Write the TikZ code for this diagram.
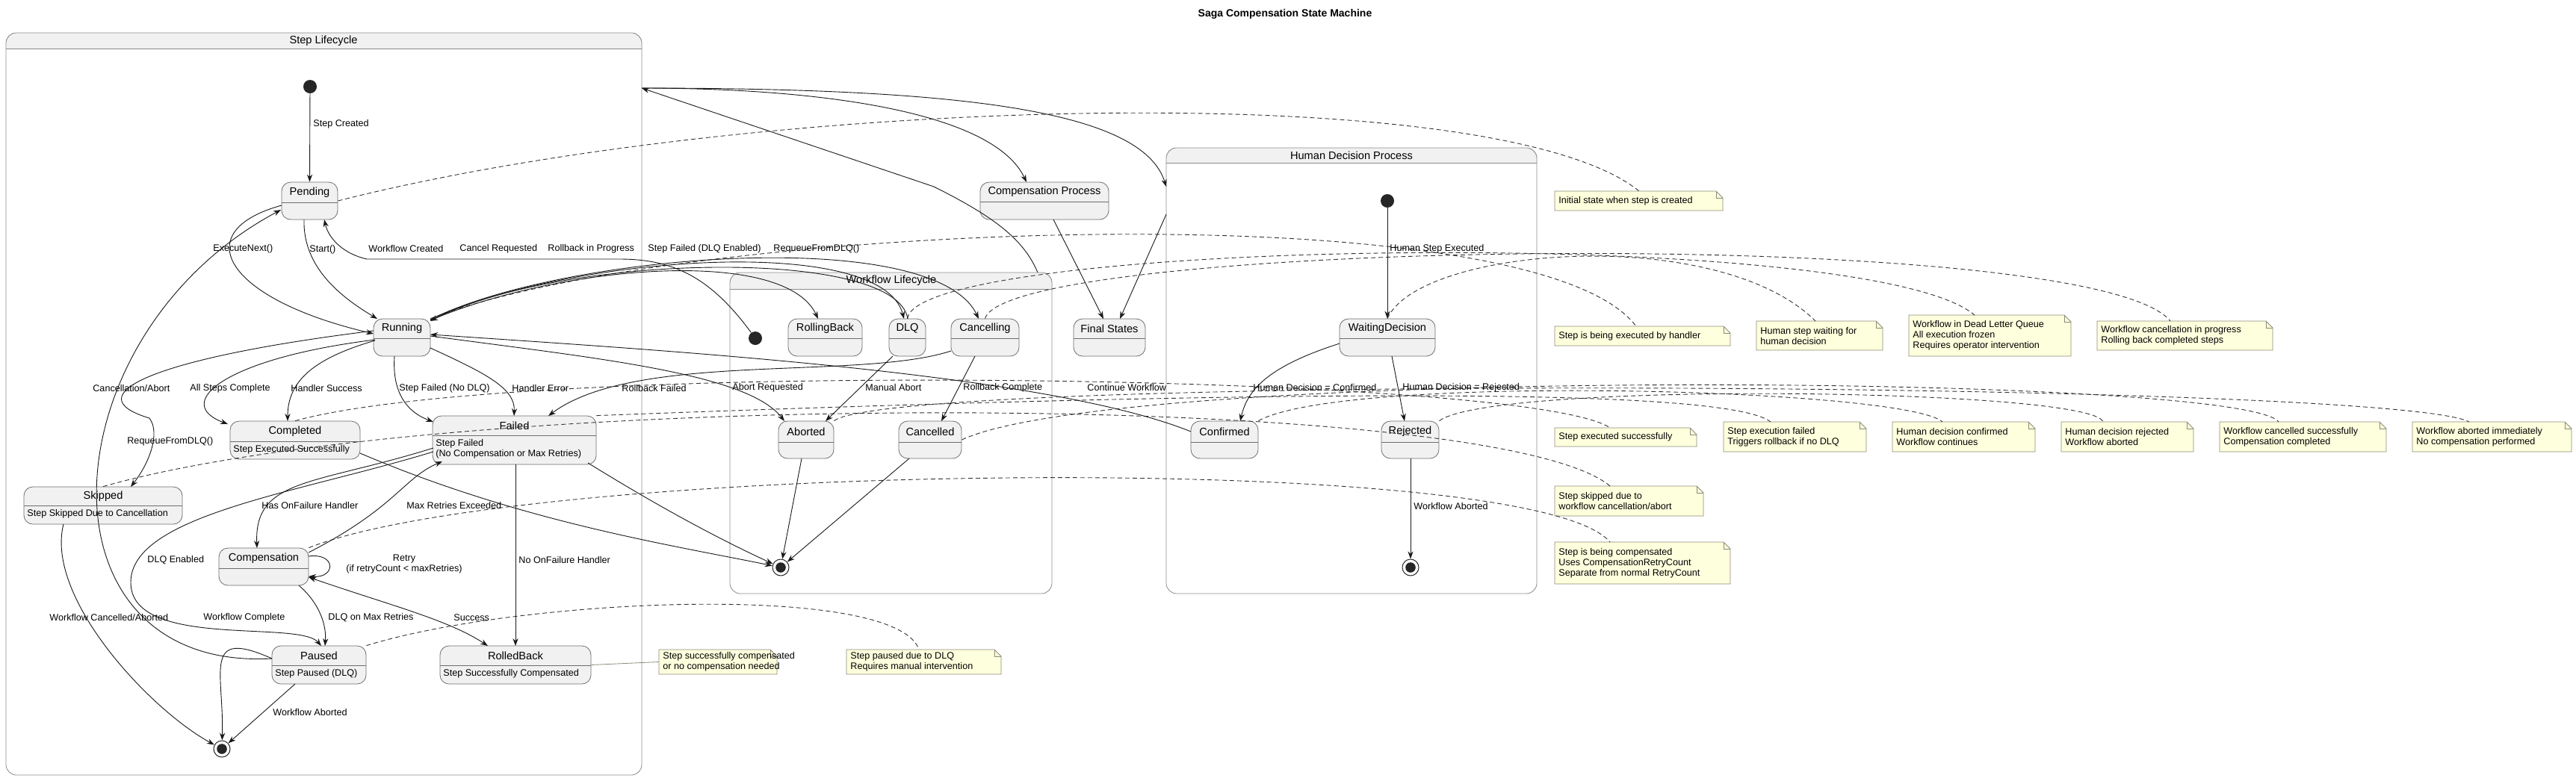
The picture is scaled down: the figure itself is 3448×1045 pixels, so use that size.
\documentclass[tikz,border=0pt]{standalone}
\usepackage{fontspec}
\setmainfont{Liberation Sans}
\usetikzlibrary{fit,arrows.meta}
\definecolor{stfill}{HTML}{F1F1F1}
\definecolor{stdraw}{HTML}{6E6E6E}
\definecolor{notefill}{HTML}{FEFFDD}
\definecolor{notedraw}{HTML}{8A8A7A}
\tikzset{
 lbl/.style={font=\fontsize{6.3}{7}\selectfont,inner sep=1pt},
 stname/.style={font=\fontsize{7.3}{8.5}\selectfont,inner sep=0pt},
 stline/.style={draw=stdraw,line width=0.4pt},
 frameline/.style={draw=stdraw!80,line width=0.4pt},
 notest/.style={draw=notedraw,fill=notefill,line width=0.4pt},
 tr/.style={draw=black!90,line width=0.45pt,-{Stealth[length=5pt,width=3.6pt]}},
 trb/.style={draw=black!90,line width=0.45pt,{Stealth[length=5pt,width=3.6pt]}-{Stealth[length=5pt,width=3.6pt]}},
 nl/.style={draw=black!80,line width=0.45pt,dash pattern=on 3pt off 2pt},
 startst/.style={circle,fill=black!85,minimum size=9pt,inner sep=0pt},
 endst/.style={circle,draw=black!85,fill=white,minimum size=11pt,inner sep=0pt,line width=0.5pt},
}
\newcommand\stbox[8]{%
 \filldraw[stline,fill=stfill,rounded corners=6pt] (#2,#3) rectangle (#4,#5);
 \draw[stline] (#2,#6) -- (#4,#6);
 \node[stname] (#1t) at ({(#2+#4)/2},{(#3+#6)/2}) {#7};
 \node[lbl,anchor=north west,align=left] (#1b) at (#2+2,#6+3) {#8};
 \path (#2,#3) coordinate (#1nw) (#4,#5) coordinate (#1se);
 \node[fit=(#1nw)(#1se),inner sep=0pt] (#1) {};
}
\newcommand\frbox[6]{%
 \filldraw[frameline,fill=white,rounded corners=7pt] (#2,#3) rectangle (#4,#5);
 \scope\clip (#2,#3) rectangle (#4,#6);
 \filldraw[frameline,fill=stfill,rounded corners=7pt] (#2,#3) rectangle (#4,#5);\endscope
 \draw[frameline] (#2,#6) -- (#4,#6);
 \path (#2,#3) coordinate (#1nw) (#4,#5) coordinate (#1se);
 \node[fit=(#1nw)(#1se),inner sep=0pt] (#1) {};
}
\newcommand\notebox[6]{%
 \filldraw[notest] (#2,#3) -- (#4-9,#3) -- (#4,#3+9) -- (#4,#5) -- (#2,#5) -- cycle;
 \draw[notest,fill=none] (#4-9,#3) |- (#4,#3+9);
 \node[lbl,anchor=west,align=left] (#1t) at (#2+3,{(#3+#5)/2}) {#6};
 \path (#2,#3) coordinate (#1nw) (#4,#5) coordinate (#1se);
 \node[fit=(#1nw)(#1se),inner sep=0pt] (#1) {};
}
\begin{document}
\begin{tikzpicture}[x=0.5pt,y=-0.5pt]
\fill[white] (0,0) rectangle (3448,1045);
\useasboundingbox (0,0) rectangle (3448,1045);
\node[font=\bfseries\fontsize{7}{8}\selectfont] (title) at (1720,19) {Saga Compensation State Machine};
% frames
\frbox{stepfr}{8}{44}{859}{1038}{65}
\node[stname] (stepfrt) at (433,55) {Step Lifecycle};
\frbox{wffr}{977}{365}{1408}{795}{387}
\node[stname] (wffrt) at (1193,376) {Workflow Lifecycle};
\frbox{humfr}{1561}{198}{2057}{795}{218}
\node[stname] (humfrt) at (1809,208) {Human Decision Process};
% states step
\node[startst] (sstart) at (415,116) {};
\stbox{Pending}{377}{244}{452}{294}{271}{Pending}{}
\stbox{Running}{500}{427}{576}{477}{453}{Running}{}
\stbox{Completed}{308}{564}{482}{615}{591}{Completed}{Step Executed Successfully}
\stbox{Failed}{579}{557}{798}{622}{583}{Failed}{Step Failed\\(No Compensation or Max Retries)}
\stbox{Skipped}{32}{652}{244}{702}{677}{Skipped}{Step Skipped Due to Cancellation}
\stbox{Compensation}{293}{734}{413}{784}{761}{Compensation}{}
\stbox{Paused}{364}{865}{490}{916}{891}{Paused}{Step Paused (DLQ)}
\stbox{RolledBack}{589}{865}{791}{916}{891}{RolledBack}{Step Successfully Compensated}
\node[endst] (send) at (297,1003) {};
\fill[black!85] (send) circle (3.4pt);
% workflow
\node[startst] (wstart) at (1011,453) {};
\stbox{RollingBack}{1055}{427}{1154}{477}{453}{RollingBack}{}
\stbox{DLQ}{1190}{427}{1239}{477}{453}{DLQ}{}
\stbox{Cancelling}{1273}{427}{1364}{477}{453}{Cancelling}{}
\stbox{Aborted}{1042}{564}{1116}{614}{592}{Aborted}{}
\stbox{Cancelled}{1203}{564}{1287}{614}{592}{Cancelled}{}
\node[endst] (wend) at (1045,760) {};
\fill[black!85] (wend) circle (3.4pt);
\stbox{CompProc}{1312}{244}{1484}{294}{270}{Compensation Process}{}
\stbox{Final}{1437}{427}{1533}{477}{453}{Final States}{}
% human
\node[startst] (hstart) at (1857,269) {};
\stbox{Waiting}{1793}{427}{1921}{477}{453}{WaitingDecision}{}
\stbox{Confirmed}{1594}{564}{1684}{614}{592}{Confirmed}{}
\stbox{Rejected}{1849}{564}{1926}{614}{592}{Rejected}{}
\node[endst] (hend) at (1888,760) {};
\fill[black!85] (hend) circle (3.4pt);
% notes
\notebox{n1}{2081}{256}{2306}{282}{Initial state when step is created}
\notebox{n2}{2081}{437}{2316}{463}{Step is being executed by handler}
\notebox{n3}{2351}{430}{2520}{469}{Human step waiting for\\human decision}
\notebox{n4}{2555}{422}{2772}{477}{Workflow in Dead Letter Queue\\All execution frozen\\Requires operator intervention}
\notebox{n5}{2807}{430}{3042}{469}{Workflow cancellation in progress\\Rolling back completed steps}
\notebox{n6}{2081}{573}{2271}{598}{Step executed successfully}
\notebox{n7}{2307}{565}{2498}{605}{Step execution failed\\Triggers rollback if no DLQ}
\notebox{n8}{2533}{565}{2724}{605}{Human decision confirmed\\Workflow continues}
\notebox{n9}{2759}{565}{2936}{605}{Human decision rejected\\Workflow aborted}
\notebox{n10}{2971}{565}{3194}{605}{Workflow cancelled successfully\\Compensation completed}
\notebox{n11}{3229}{565}{3442}{605}{Workflow aborted immediately\\No compensation performed}
\notebox{n12}{2081}{651}{2280}{691}{Step skipped due to\\workflow cancellation/abort}
\notebox{n13}{2081}{726}{2316}{782}{Step is being compensated\\Uses CompensationRetryCount\\Separate from normal RetryCount}
\notebox{n14}{1133}{870}{1340}{903}{Step paused due to DLQ\\Requires manual intervention}
\notebox{n15}{882}{870}{1040}{903}{Step successfully compensated\\or no compensation needed}
% note links
\draw[nl] (Pending.east) .. controls (1000,130) and (2000,100) .. (n1.north);
\draw[nl] (Running.north east) .. controls (900,300) and (2050,250) .. (2190,437);
\draw[nl] (Waiting.north) .. controls (1900,330) and (2300,300) .. (2430,430);
\draw[nl] (DLQ.north) .. controls (1230,320) and (2500,300) .. (2643,422);
\draw[nl] (Cancelling.north) .. controls (1350,320) and (2800,300) .. (2905,430);
\draw[nl] (Completed.north) .. controls (700,480) and (2050,500) .. (2155,573);
\draw[nl] (Failed.north east) .. controls (1500,530) and (2300,510) .. (2370,565);
\draw[nl] (Confirmed.north east) .. controls (1800,500) and (2550,520) .. (2600,565);
\draw[nl] (Rejected.north east) .. controls (2000,510) and (2800,520) .. (2815,565);
\draw[nl] (Cancelled.east) .. controls (1500,490) and (3000,500) .. (3050,565);
\draw[nl] (Aborted.north east) .. controls (1200,500) and (3200,510) .. (3305,565);
\draw[nl] (Skipped.north) .. controls (600,520) and (2000,520) .. (2155,651);
\draw[nl] (Compensation.north east) .. controls (700,620) and (2050,600) .. (2155,726);
\draw[nl] (Paused.north east) .. controls (700,800) and (1200,780) .. (1230,870);
\draw[draw=notedraw,line width=0.4pt] (RolledBack.east) -- (n15.west);
% step transitions
\draw[tr] (sstart) -- (Pending.north);
\node[lbl,anchor=west] (l1) at (417,166) {Step Created};
\draw[tr] (407,294) .. controls (405,360) and (460,400) .. (505,427);
\node[lbl,anchor=west] (l2) at (412,334) {Start()};
\draw[tr] (377,275) .. controls (250,310) and (300,400) .. (500,447);
\node[lbl,anchor=west] (l3) at (283,333) {ExecuteNext()};
\draw[tr] (364,882) .. controls (40,900) and (60,450) .. (376,281);
\node[lbl,anchor=west] (l4) at (168,591) {RequeueFromDLQ()};
\draw[tr] (500,443) .. controls (200,480) and (100,530) .. (200,560) .. controls (215,580) and (200,620) .. (175,652);
\node[lbl,anchor=west] (l5) at (122,520) {Cancellation/Abort};
\draw[tr] (502,455) .. controls (300,480) and (230,540) .. (305,568);
\node[lbl,anchor=west] (l6) at (252,520) {All Steps Complete};
\draw[tr] (502,456) .. controls (420,480) and (385,510) .. (385,564);
\node[lbl,anchor=west] (l7) at (387,520) {Handler Success};
\draw[tr] (528,477) .. controls (525,520) and (540,550) .. (580,565);
\node[lbl,anchor=west] (l8) at (532,520) {Step Failed (No DLQ)};
\draw[tr] (576,466) .. controls (650,500) and (690,520) .. (688,557);
\node[lbl,anchor=west] (l9) at (683,520) {Handler Error};
\draw[tr] (1273,470) .. controls (1150,510) and (850,470) .. (734,557);
\node[lbl,anchor=west] (l10) at (830,520) {Rollback Failed};
\draw[tr] (576,450) .. controls (800,480) and (1000,500) .. (1050,564);
\node[lbl,anchor=west] (l11) at (978,519) {Abort Requested};
\draw[tr] (1195,477) -- (1105,564);
\node[lbl,anchor=west] (l12) at (1156,519) {Manual Abort};
\draw[tr] (1305,477) -- (1260,564);
\node[lbl,anchor=west] (l13) at (1287,519) {Rollback Complete};
\draw[tr] (1594,578) .. controls (1400,500) and (900,470) .. (576,448);
\node[lbl,anchor=west] (l14) at (1453,519) {Continue Workflow};
\draw[tr] (wstart) .. controls (950,370) and (900,347) .. (829,347) -- (491,347) .. controls (460,340) and (440,320) .. (434,294);
\node[lbl,anchor=west] (l15) at (491,333) {Workflow Created};
\draw[tr] (576,428) .. controls (750,340) and (1250,300) .. (1310,427);
\node[lbl,anchor=west] (l16) at (613,333) {Cancel Requested};
\draw[tr] (576,429) .. controls (750,355) and (1050,330) .. (1095,427);
\node[lbl,anchor=west] (l17) at (731,333) {Rollback in Progress};
\draw[tr] (576,428) .. controls (750,345) and (1180,310) .. (1210,427);
\node[lbl,anchor=west] (l18) at (865,333) {Step Failed (DLQ Enabled)};
\draw[tr] (1215,427) .. controls (1200,330) and (750,340) .. (576,430);
\node[lbl,anchor=west] (l19) at (1033,333) {RequeueFromDLQ()};
\draw[tr] (1389,365) .. controls (1370,320) and (1330,290) .. (1250,250) -- (859,118);
\draw[tr] (859,118) .. controls (1100,118) and (1330,150) .. (1374,244);
\draw[tr] (859,118) .. controls (1300,118) and (1530,150) .. (1561,250);
\draw[tr] (1410,294) -- (1477,427);
\draw[tr] (1561,287) -- (1499,427);
% human transitions
\draw[tr] (hstart) -- (Waiting.north);
\node[lbl,anchor=west] (l20) at (1858,333) {Human Step Executed};
\draw[tr] (1793,460) .. controls (1700,490) and (1670,520) .. (1660,564);
\node[lbl,anchor=west] (l21) at (1675,519) {Human Decision = Confirmed};
\draw[tr] (1863,477) -- (1880,564);
\node[lbl,anchor=west] (l22) at (1875,519) {Human Decision = Rejected};
\draw[tr] (1888,614) -- (hend);
\node[lbl,anchor=west] (l23) at (1890,678) {Workflow Aborted};
% workflow ends
\draw[tr] (1073,614) -- (wend);
\draw[tr] (1217,614) -- (wend);
\draw[tr] (482,607) .. controls (700,700) and (900,730) .. (wend);
\draw[tr] (787,620) .. controls (900,690) and (980,730) .. (wend);
% compensation
\draw[tr] (580,600) .. controls (420,650) and (340,640) .. (344,734);
\node[lbl,anchor=west] (l24) at (348,677) {Has OnFailure Handler};
\draw[tr] (413,740) .. controls (530,680) and (540,640) .. (592,618);
\node[lbl,anchor=west] (l25) at (542,677) {Max Retries Exceeded};
\draw[tr] (413,745) .. controls (450,740) and (450,774) .. (413,772);
\node[lbl,align=center] (l26) at (541,755) {Retry\\(if retryCount < maxRetries)};
\draw[tr] (400,784) .. controls (430,810) and (437,840) .. (435,865);
\node[lbl,anchor=west] (l27) at (437,827) {DLQ on Max Retries};
\draw[trb] (413,773) .. controls (520,810) and (600,830) .. (653,865);
\node[lbl,anchor=west] (l28) at (605,827) {Success};
\draw[tr] (690,622) -- (690,865);
\node[lbl,anchor=west] (l29) at (692,750) {No OnFailure Handler};
\draw[tr] (580,605) .. controls (400,660) and (175,690) .. (175,780) .. controls (175,870) and (400,830) .. (430,865);
\node[lbl,anchor=west] (l30) at (195,750) {DLQ Enabled};
\draw[tr] (364,882) .. controls (270,840) and (300,900) .. (send);
\node[lbl,anchor=west] (l31) at (270,827) {Workflow Complete};
\draw[tr] (85,702) .. controls (60,800) and (200,950) .. (send);
\node[lbl,anchor=west] (l32) at (64,827) {Workflow Cancelled/Aborted};
\draw[tr] (395,916) -- (send);
\node[lbl,anchor=west] (l33) at (363,954) {Workflow Aborted};
\end{tikzpicture}
\end{document}
